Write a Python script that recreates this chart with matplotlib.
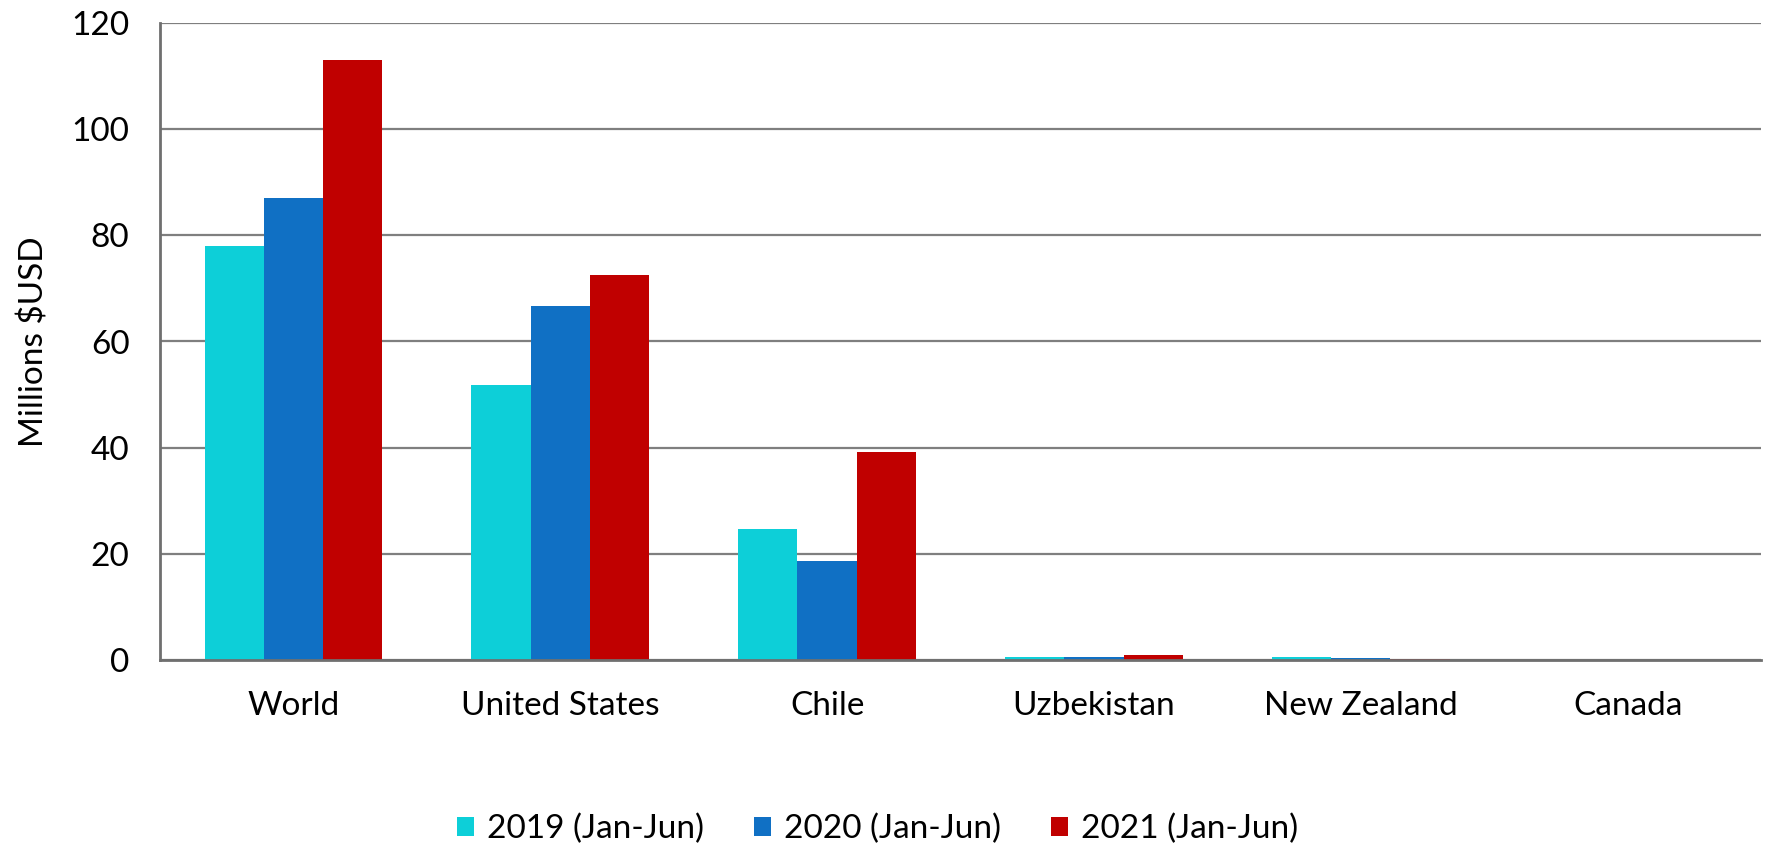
import matplotlib.pyplot as plt
import numpy as np

# ------------------------
# Datos
# ------------------------
paises = ["World", "United States", "Chile", "Uzbekistan", "New Zealand", "Canada"]
series = ["2019 (Jan-Jun)", "2020 (Jan-Jun)", "2021 (Jan-Jun)"]
valores_2019 = [78.0, 51.8, 24.7, 0.5, 0.6, 0.01]
valores_2020 = [87.0, 66.7, 18.7, 0.6, 0.4, 0.01]
valores_2021 = [113.0, 72.5, 39.1, 0.95, 0.15, 0.01]
colores = ["#0DCFD8", "#1070C4", "#C00000"]
yticks = [0, 20, 40, 60, 80, 100, 120]

# ------------------------
# Gráfico
# ------------------------
plt.rcParams['font.family'] = ['Lato', 'DejaVu Sans']

fig = plt.figure(figsize=(17.7, 8.46), dpi=100)
ax = fig.add_axes([160 / 1770, 1 - 660 / 846, (1761 - 160) / 1770, (660 - 23) / 846])

x = np.arange(len(paises))
ancho = 0.222
for i, (vals, nombre) in enumerate(zip([valores_2019, valores_2020, valores_2021], series)):
    ax.bar(x + (i - 1) * ancho, vals, width=ancho, color=colores[i], label=nombre, zorder=3)

ax.set_xlim(-0.5, len(paises) - 0.5)
ax.set_ylim(0, 120)
ax.set_yticks(yticks)
ax.set_xticks(x)
ax.set_xticklabels(paises)
ax.tick_params(axis='both', length=0, labelsize=24)
ax.tick_params(axis='x', pad=22)
ax.tick_params(axis='y', pad=22)
ax.grid(axis='y', color='#7F7F7F', linewidth=1.6, zorder=0)
ax.set_ylabel("Millions $USD", fontsize=24, labelpad=16)

for lado in ['top', 'right']:
    ax.spines[lado].set_visible(False)
for lado in ['left', 'bottom']:
    ax.spines[lado].set_color('#6F6F6F')
    ax.spines[lado].set_linewidth(2)
    ax.spines[lado].set_zorder(4)

fig.legend(loc='center', bbox_to_anchor=(0.496, 0.02), ncol=3, frameon=False,
           fontsize=24, handlelength=0.5, handleheight=0.5, handletextpad=0.4,
           columnspacing=1.5)

fig.savefig("out.png", dpi=100)
